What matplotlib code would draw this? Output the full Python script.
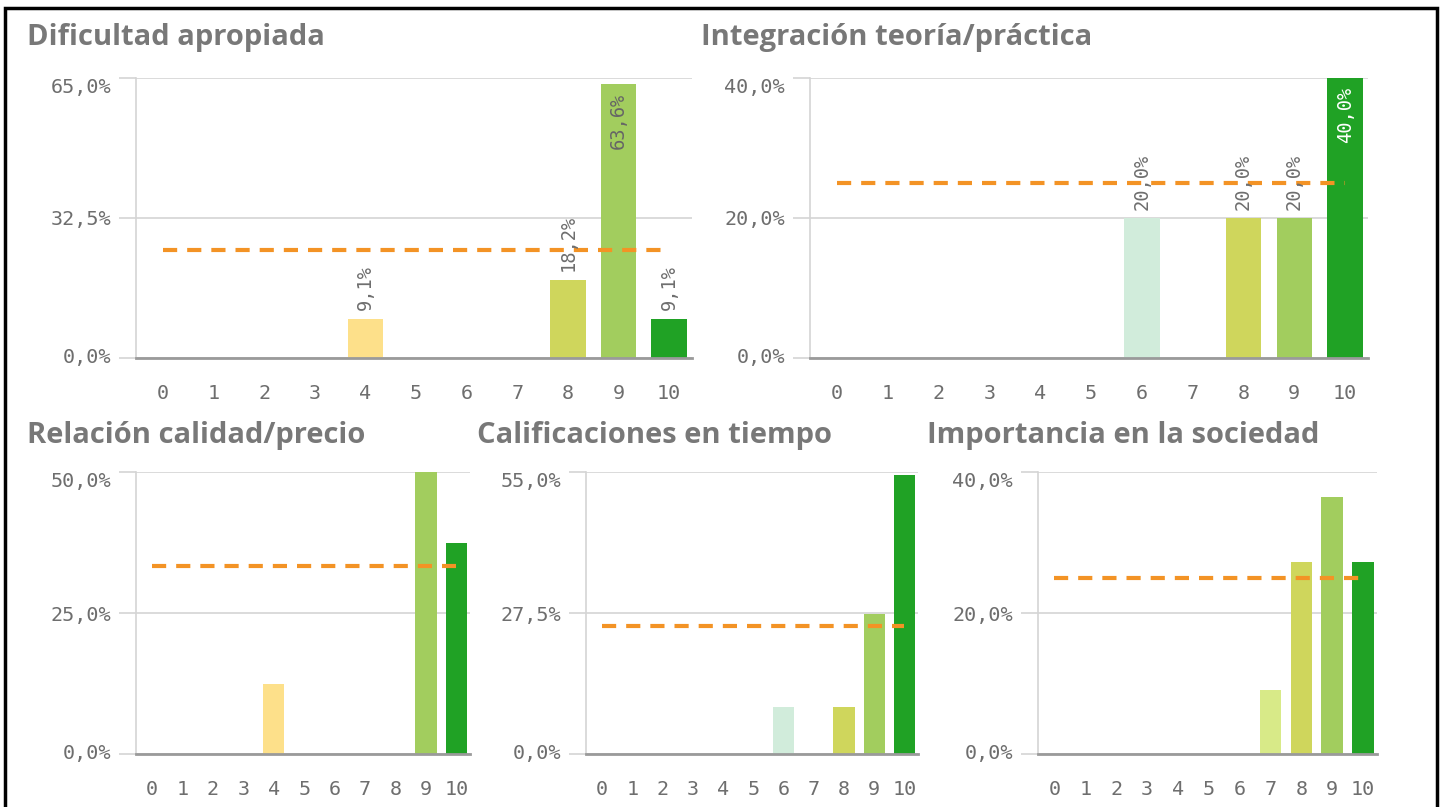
import numpy as np
import matplotlib
matplotlib.use('Agg')
import matplotlib.pyplot as plt
from matplotlib.patches import Rectangle

#---------------datos-------------------
notas = list(range(11))
notas_lbl = [str(n) for n in notas]

titulos = ['Dificultad apropiada', 'Integración teoría/práctica',
           'Relación calidad/precio', 'Calificaciones en tiempo',
           'Importancia en la sociedad']

dificultad   = [0, 0, 0, 0, 9.1, 0, 0, 0, 18.2, 63.6, 9.1]
integracion  = [0, 0, 0, 0, 0, 0, 20.0, 0, 20.0, 20.0, 40.0]
calidad      = [0, 0, 0, 0, 12.5, 0, 0, 0, 0, 50.0, 37.5]
calif_tiempo = [0, 0, 0, 0, 0, 0, 9.1, 0, 9.1, 27.3, 54.5]
importancia  = [0, 0, 0, 0, 0, 0, 0, 9.1, 27.3, 36.4, 27.3]

series = [dificultad, integracion, calidad, calif_tiempo, importancia]
media = [25.0, 25.0, 33.3, 25.0, 25.0]     # linea de referencia
ymax = [65.0, 40.0, 50.0, 55.0, 40.0]
con_etiquetas = [True, True, False, False, False]

# colores por nota
colores = ['#e8573c', '#f07a45', '#f69d52', '#fbbf6a', '#fde08a', '#fbeeb0',
           '#d1ecdb', '#d8ea88', '#cfd65c', '#a2cd5e', '#20a225']
col_txt_dentro = ['#666666'] * 10 + ['white']

#---------------layout (px)-------------------
W, H = 1448, 807
cajas = [(136, 78, 556, 280), (810, 78, 558, 280),
         (136, 472, 334, 282), (586, 472, 332, 282), (1038, 472, 339, 282)]
pos_titulo = [(27, 45), (701, 45), (27, 443), (477, 443), (927, 443)]

gris_txt = '#6e6e6e'
gris_grid = '#d4d4d4'
naranja = '#f39325'
mono = 'DejaVu Sans Mono'

def fmt(v):
    return ('%.1f%%' % v).replace('.', ',')

fig = plt.figure(figsize=(W / 100, H / 100), dpi=100)

for i in range(5):
    l, t, w, h = cajas[i]
    ax = fig.add_axes([l / W, 1 - (t + h) / H, w / W, h / H])
    vals = series[i]
    ax.bar(notas, vals, width=0.7, color=colores, zorder=2)
    ax.plot([notas[0], notas[-1]], [media[i], media[i]], color=naranja, lw=3,
            linestyle=(0, (3.4, 2.4)), dash_capstyle='butt', zorder=3)

    ax.set_xlim(-0.53, 10.45)
    ax.set_ylim(0, ymax[i])
    yt = [0, ymax[i] / 2, ymax[i]]
    ax.set_yticks(yt)
    ax.set_yticklabels([fmt(v) for v in yt], fontfamily=mono, fontsize=14.5, color=gris_txt)
    ax.set_xticks(notas)
    ax.set_xticklabels(notas_lbl, fontfamily=mono, fontsize=14.5, color=gris_txt)
    ax.tick_params(axis='y', length=12, width=1.2, color=gris_grid, pad=6)
    ax.tick_params(axis='x', length=0, pad=19)
    ax.yaxis.get_ticklabels()[-1].set_verticalalignment('top')
    ax.yaxis.get_ticklabels()[0].set_verticalalignment('center')

    ax.grid(axis='y', color=gris_grid, lw=1.2, zorder=0)
    for s in ['top', 'right']:
        ax.spines[s].set_visible(False)
    ax.spines['left'].set_color(gris_grid)
    ax.spines['left'].set_linewidth(1.2)
    ax.spines['bottom'].set_color('#9a9a9a')
    ax.spines['bottom'].set_linewidth(2)
    ax.spines['bottom'].set_zorder(4)

    if con_etiquetas[i]:
        for x, v in zip(notas, vals):
            if v <= 0:
                continue
            if v > 0.75 * ymax[i]:
                ax.annotate(fmt(v), (x, v), xytext=(0, -6), textcoords='offset points',
                            rotation=90, ha='center', va='top', fontfamily=mono,
                            fontsize=13.5, color=col_txt_dentro[x], zorder=5)
            else:
                ax.annotate(fmt(v), (x, v), xytext=(0, 6), textcoords='offset points',
                            rotation=90, ha='center', va='bottom', fontfamily=mono,
                            fontsize=13.5, color=gris_txt, zorder=5)

    tx, ty = pos_titulo[i]
    fig.text(tx / W, 1 - ty / H, titulos[i], fontfamily='Open Sans', fontweight='bold',
             fontsize=21, color='#787878', va='baseline', ha='left')

# marco negro
fig.add_artist(Rectangle((5 / W, -0.2), (1437 - 5) / W, 1.2 - 8 / H, transform=fig.transFigure,
                         fill=False, edgecolor='black', lw=2.5))

fig.savefig('out.png', dpi=100)
